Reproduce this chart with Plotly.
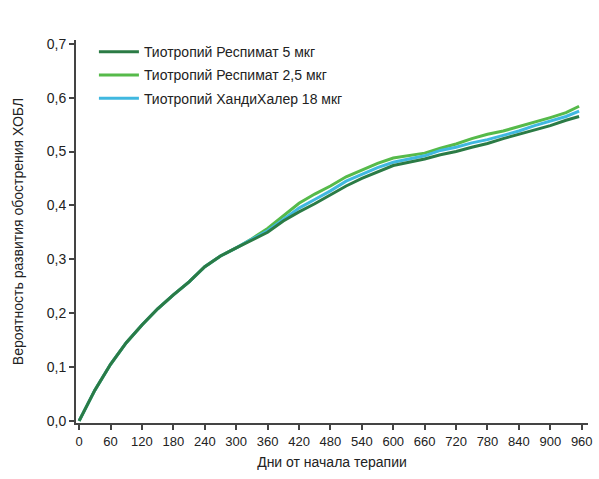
import plotly.graph_objects as go

days = [0, 30, 60, 90, 120, 150, 180, 210, 240, 270, 300, 330, 360, 390, 420, 450,
        480, 510, 540, 570, 600, 630, 660, 690, 720, 750, 780, 810, 840, 870, 900, 930, 955]

resp5 = [0.0, 0.057, 0.105, 0.145, 0.178, 0.208, 0.234, 0.258, 0.286, 0.306, 0.321, 0.336,
         0.350, 0.371, 0.388, 0.403, 0.420, 0.436, 0.450, 0.462, 0.474, 0.480, 0.486, 0.494,
         0.500, 0.508, 0.515, 0.524, 0.532, 0.540, 0.548, 0.558, 0.565]
resp25 = [0.0, 0.057, 0.105, 0.145, 0.178, 0.208, 0.234, 0.258, 0.286, 0.306, 0.321, 0.338,
          0.357, 0.380, 0.404, 0.421, 0.436, 0.453, 0.466, 0.478, 0.488, 0.492, 0.497, 0.506,
          0.514, 0.524, 0.532, 0.538, 0.546, 0.555, 0.563, 0.572, 0.584]
handi18 = [0.0, 0.057, 0.105, 0.145, 0.178, 0.208, 0.234, 0.258, 0.286, 0.306, 0.321, 0.337,
           0.353, 0.374, 0.395, 0.411, 0.427, 0.445, 0.458, 0.470, 0.480, 0.486, 0.492, 0.502,
           0.508, 0.516, 0.522, 0.530, 0.538, 0.548, 0.556, 0.565, 0.575]

names = ["Тиотропий Респимат 5 мкг", "Тиотропий Респимат 2,5 мкг", "Тиотропий ХандиХалер 18 мкг"]
colors = ["#2b7b45", "#56ba4a", "#40b8e0"]

x_ticks = list(range(0, 961, 60))
y_ticks = [0.0, 0.1, 0.2, 0.3, 0.4, 0.5, 0.6, 0.7]
y_ticktext = ["0,0", "0,1", "0,2", "0,3", "0,4", "0,5", "0,6", "0,7"]

FONT = "Liberation Sans, Arial, sans-serif"

fig = go.Figure()
series = [resp5, resp25, handi18]
draw_order = [1, 2, 0]
for i in draw_order:
    fig.add_trace(go.Scatter(
        x=days, y=series[i], mode="lines", name=names[i],
        line=dict(color=colors[i], width=3), legendrank=i + 1,
        legendgroup="g%d" % i,
    ))

fig.update_layout(
    width=599, height=479,
    margin=dict(l=76, r=6, t=40, b=56),
    paper_bgcolor="white", plot_bgcolor="white",
    font=dict(family=FONT, size=13, color="#222"),
    showlegend=True,
    legend=dict(x=0.035, y=1.01, xanchor="left", yanchor="top",
                bgcolor="rgba(0,0,0,0)", font=dict(size=14, family=FONT),
                tracegroupgap=2, itemwidth=40),
    xaxis=dict(
        range=[-6, 972], tickvals=x_ticks, ticktext=[str(v) for v in x_ticks],
        showgrid=False, zeroline=False, showline=True, linecolor="#444", linewidth=2,
        ticks="outside", ticklen=5, tickwidth=2, tickcolor="#444",
        tickfont=dict(size=13, family=FONT, color="#222"),
        title=dict(text="Дни от начала терапии", font=dict(size=14, family=FONT), standoff=10),
    ),
    yaxis=dict(
        range=[-0.004, 0.707], tickvals=y_ticks, ticktext=y_ticktext,
        showgrid=False, zeroline=False, showline=True, linecolor="#444", linewidth=2,
        ticks="outside", ticklen=5, tickwidth=2, tickcolor="#444",
        tickfont=dict(size=14, family=FONT, color="#222"),
        title=dict(text="Вероятность развития обострения ХОБЛ", font=dict(size=14, family=FONT), standoff=20),
    ),
)

fig.write_html("out.html")
